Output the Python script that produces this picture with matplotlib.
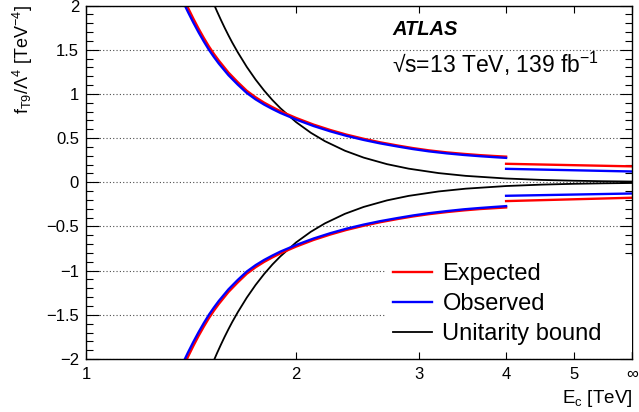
import matplotlib
matplotlib.use("Agg")
import matplotlib.pyplot as plt
from matplotlib.ticker import FixedLocator, NullLocator, MultipleLocator, FuncFormatter

plt.rcParams["font.family"] = ["Liberation Sans", "DejaVu Sans"]
plt.rcParams["mathtext.fontset"] = "custom"
plt.rcParams["mathtext.rm"] = "Liberation Sans"
plt.rcParams["mathtext.it"] = "Liberation Sans:italic"
plt.rcParams["mathtext.bf"] = "Liberation Sans:bold"

# x position used for E_c -> infinity
E_INF = 6.06

# limits for E_c below 4 TeV
e_low = [1.38, 1.40, 1.425, 1.45, 1.475, 1.50, 1.525, 1.55, 1.60, 1.65, 1.70, 1.75, 1.80,
         1.85, 1.90, 2.00, 2.12, 2.24, 2.36, 2.50, 2.64, 2.80, 2.94, 3.10, 3.29, 3.48,
         3.67, 3.85, 4.00]
obs_pos = [2.03, 1.927, 1.807, 1.696, 1.594, 1.50, 1.418, 1.343, 1.212, 1.105, 1.01, 0.938,
           0.879, 0.829, 0.784, 0.710, 0.636, 0.576, 0.526, 0.479, 0.440, 0.404, 0.376,
           0.350, 0.327, 0.309, 0.295, 0.284, 0.276]
exp_pos = [2.08, 1.975, 1.852, 1.738, 1.634, 1.538, 1.453, 1.377, 1.242, 1.133, 1.035, 0.962,
           0.901, 0.850, 0.804, 0.728, 0.652, 0.591, 0.540, 0.492, 0.452, 0.415, 0.387,
           0.361, 0.338, 0.321, 0.307, 0.297, 0.290]
obs_neg = [-2.03, -1.927, -1.807, -1.696, -1.594, -1.50, -1.418, -1.343, -1.212, -1.105, -1.01,
           -0.938, -0.879, -0.829, -0.784, -0.710, -0.636, -0.576, -0.526, -0.479, -0.440,
           -0.404, -0.376, -0.350, -0.326, -0.306, -0.291, -0.279, -0.270]
exp_neg = [-2.08, -1.975, -1.852, -1.738, -1.634, -1.538, -1.453, -1.377, -1.242, -1.133, -1.035,
           -0.962, -0.901, -0.850, -0.804, -0.728, -0.652, -0.591, -0.540, -0.492, -0.452,
           -0.415, -0.387, -0.361, -0.337, -0.318, -0.303, -0.293, -0.285]

# limits from 4 TeV up to no cut-off
e_high = [4.00, E_INF]
exp_pos_high = [0.209, 0.180]
obs_pos_high = [0.152, 0.122]
exp_neg_high = [-0.213, -0.175]
obs_neg_high = [-0.153, -0.127]

# unitarity bound
e_unit = [1.50, 1.52, 1.54, 1.56, 1.58, 1.60, 1.62, 1.65, 1.70, 1.75, 1.80, 1.85, 1.90, 2.00,
          2.10, 2.20, 2.35, 2.50, 2.70, 2.90, 3.20, 3.50, 4.00, 4.50, 5.00, 5.50, E_INF]
unit_pos = [2.153, 2.042, 1.938, 1.841, 1.749, 1.663, 1.582, 1.471, 1.305, 1.162, 1.038,
            0.930, 0.837, 0.681, 0.560, 0.465, 0.357, 0.279, 0.205, 0.154, 0.104, 0.0726,
            0.0426, 0.0266, 0.0174, 0.0119, 0.0081]
unit_neg = [-v for v in unit_pos]

x_ticks = [1, 2, 3, 4, 5, E_INF]
x_labels = ["1", "2", "3", "4", "5", "\u221e"]

fig = plt.figure(figsize=(6.39, 4.12), dpi=100)
ax = fig.add_axes([0.1346, 0.1286, 0.8544, 0.858])

lw_lim = 1.7
h_unit, = ax.plot(e_unit, unit_pos, color="black", lw=1.3)
ax.plot(e_unit, unit_neg, color="black", lw=1.3)
h_exp, = ax.plot(e_low, exp_pos, color="#ff0000", lw=lw_lim)
ax.plot(e_low, exp_neg, color="#ff0000", lw=lw_lim)
ax.plot(e_high, exp_pos_high, color="#ff0000", lw=lw_lim)
ax.plot(e_high, exp_neg_high, color="#ff0000", lw=lw_lim)
h_obs, = ax.plot(e_low, obs_pos, color="#0000ff", lw=lw_lim)
ax.plot(e_low, obs_neg, color="#0000ff", lw=lw_lim)
ax.plot(e_high, obs_pos_high, color="#0000ff", lw=lw_lim)
ax.plot(e_high, obs_neg_high, color="#0000ff", lw=lw_lim)

ax.set_xscale("log")
ax.set_xlim(1, E_INF)
ax.set_ylim(-2, 2)

ax.xaxis.set_major_locator(FixedLocator(x_ticks))
ax.xaxis.set_minor_locator(NullLocator())
ax.set_xticklabels(x_labels)
ax.yaxis.set_major_locator(MultipleLocator(0.5))
ax.yaxis.set_minor_locator(MultipleLocator(0.1))
ax.yaxis.set_major_formatter(FuncFormatter(lambda v, pos: ("%g" % v).replace("-", "\u2212")))

ax.tick_params(axis="both", which="both", direction="in", top=True, right=True,
               labelsize=12, width=0.8)
ax.tick_params(axis="x", which="major", length=5, pad=6)
ax.tick_params(axis="y", which="major", length=9, pad=5)
ax.tick_params(axis="y", which="minor", length=5)
for s in ax.spines.values():
    s.set_linewidth(1.0)

ax.set_axisbelow(True)
ax.yaxis.grid(True, linestyle=(0, (1, 2)), color="0.3", lw=0.8)

leg = ax.legend([h_exp, h_obs, h_unit], ["Expected", "Observed", "Unitarity bound"],
                loc="lower left", bbox_to_anchor=(0.549, 0.02, 0.451, 0.3), mode="expand",
                fontsize=17, frameon=True, fancybox=False, edgecolor="none",
                facecolor="white", framealpha=1.0, handlelength=1.68, handletextpad=0.42,
                labelspacing=0.33, borderpad=0.3, borderaxespad=0)

fig.text(0.6135, 0.915, "ATLAS", fontsize=14.5, fontweight="bold", fontstyle="italic",
         va="baseline", ha="left")
fig.text(0.6135, 0.8235, "\u221as=13 TeV, 139 fb$^{\\mathrm{-1}}$", fontsize=16.5,
         va="baseline", ha="left")

fig.text(0.036, 0.988, r"f$_{\mathrm{T9}}$/$\mathit{\Lambda}^{\mathrm{4}}$ [TeV$^{\mathrm{-4}}$]",
         rotation=90, fontsize=13, ha="center", va="top")
fig.text(0.989, 0.0218, r"E$_{\mathrm{c}}$ [TeV]", fontsize=13.5, ha="right", va="baseline")

fig.savefig("out.png", dpi=100)
